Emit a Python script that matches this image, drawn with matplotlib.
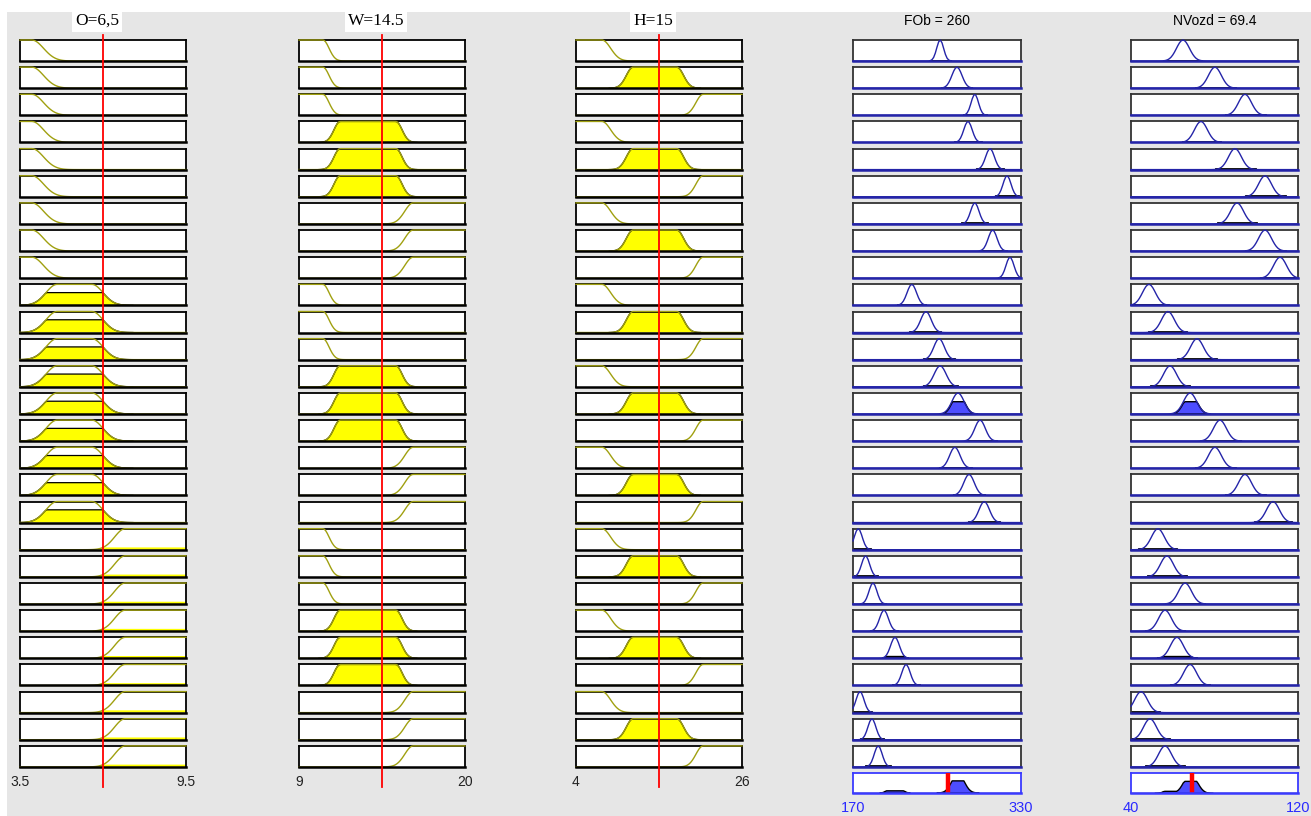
import numpy as np
import matplotlib
matplotlib.use("Agg")
import matplotlib.pyplot as plt
from matplotlib.patches import Rectangle
from matplotlib.lines import Line2D
from matplotlib.transforms import blended_transform_factory

# crisp inputs and defuzzified outputs
o_value, w_value, h_value = 6.5, 14.5, 15.0
fob_value, nvozd_value = 260, 69.4
titles = ["O=6,5", "W=14.5", "H=15", "FOb = 260", "NVozd = 69.4"]

# variable ranges
o_range = [3.5, 9.5]
w_range = [9, 20]
h_range = [4, 26]
fob_range = [170, 330]
nvozd_range = [40, 120]

# input membership functions: low = [c, s], mid = [c1, s1, c2, s2], high = [c, s]
o_mfs = {"low": [3.93, 0.42], "mid": [4.84, 0.40, 6.10, 0.40], "high": [7.30, 0.38]}
w_mfs = {"low": [10.59, 0.40], "mid": [11.72, 0.40, 15.43, 0.40], "high": [16.56, 0.55]}
h_mfs = {"low": [7.44, 1.15], "mid": [11.55, 0.88, 17.38, 0.88], "high": [20.83, 0.93]}

# rule antecedents (27 rules)
o_terms = ["low"] * 9 + ["mid"] * 9 + ["high"] * 9
w_terms = (["low"] * 3 + ["mid"] * 3 + ["high"] * 3) * 3
h_terms = ["low", "mid", "high"] * 9

# rule consequents: gaussian centres and widths
fob_centres = [253, 269, 286, 279.5, 300.5, 316.7, 286, 303, 319.5,
               226, 239.5, 252, 253, 270, 291, 267, 280.5, 295,
               175, 182, 189, 199.5, 210, 220.5, 176.7, 188, 194]
fob_sigmas = [3.3, 4.8, 3.5, 4.0, 4.2, 3.8, 4.0, 4.2, 3.8,
              4.5, 5.0, 5.0, 5.7, 5.7, 5.0, 5.0, 5.0, 5.0,
              3.8, 3.8, 3.8, 4.2, 4.2, 4.0, 3.8, 3.8, 3.8]
nvozd_centres = [64.9, 80.2, 94.6, 73.5, 89.8, 104.2, 90.8, 104.2, 111.4,
                 48.6, 57.7, 71.6, 58.7, 68.3, 82.6, 80.2, 94.6, 108,
                 52.9, 57.2, 65.9, 56.3, 62, 68.3, 44.8, 49.1, 56.3]
nvozd_sigmas = [3.1] * 27


def low_mf(x, c, s):
    return np.where(x <= c, 1.0, np.exp(-(x - c) ** 2 / (2 * s ** 2)))


def high_mf(x, c, s):
    return np.where(x >= c, 1.0, np.exp(-(x - c) ** 2 / (2 * s ** 2)))


def mid_mf(x, c1, s1, c2, s2):
    return low_mf(x, c2, s2) * high_mf(x, c1, s1)


def term_mf(x, mfs, term):
    funcs = {"low": low_mf, "mid": mid_mf, "high": high_mf}
    return funcs[term](np.asarray(x, dtype=float), *mfs[term])


def gauss(x, c, s):
    return np.exp(-(x - c) ** 2 / (2 * s ** 2))


W_PX, H_PX = 1311, 816
fig = plt.figure(figsize=(W_PX / 100, H_PX / 100), dpi=100, facecolor="white")
fig.add_artist(Rectangle((7 / W_PX, 0), 1, 1 - 12 / H_PX, transform=fig.transFigure,
                         facecolor="#e6e6e6", edgecolor="none", zorder=-10))

col_px = [(20, 186), (299, 465), (576, 742), (853, 1021), (1131, 1298)]
row_top0, row_step, row_h = 40, 27.15, 21


def px_axes(x0, x1, y0, y1):
    return fig.add_axes([x0 / W_PX, 1 - y1 / H_PX, (x1 - x0) / W_PX, (y1 - y0) / H_PX])


def fy(ypx):
    return 1 - ypx / H_PX


def style_box(ax, rng, edge, bottom):
    ax.set_xlim(rng)
    ax.set_ylim(0, 1)
    ax.set_xticks([])
    ax.set_yticks([])
    for side, sp in ax.spines.items():
        sp.set_color(bottom if side == "bottom" else edge)
        sp.set_linewidth(1.8 if side == "bottom" else 1.3)
        sp.set_zorder(4 if side == "bottom" else 2.5)


olive = "#a0a010"
navy = "#2424a8"
blue_fill = "#4d4dff"

inputs = [(o_range, o_mfs, o_terms, o_value),
          (w_range, w_mfs, w_terms, w_value),
          (h_range, h_mfs, h_terms, h_value)]
outputs = [(fob_range, fob_centres, fob_sigmas, fob_value),
           (nvozd_range, nvozd_centres, nvozd_sigmas, nvozd_value)]

# firing strength of every rule (min operator)
n_rules = 27
firing = []
for r in range(n_rules):
    degs = [float(term_mf(val, mfs, terms[r])) for rng, mfs, terms, val in inputs]
    firing.append(min(degs))

# input columns
for ci, (rng, mfs, terms, val) in enumerate(inputs):
    x0, x1 = col_px[ci]
    xs = np.linspace(rng[0], rng[1], 101)
    top_ax = None
    for r in range(n_rules):
        y0 = row_top0 + r * row_step
        ax = px_axes(x0, x1, y0, y0 + row_h)
        ys = term_mf(xs, mfs, terms[r])
        deg = float(term_mf(val, mfs, terms[r]))
        if deg > 1e-3:
            clip = np.minimum(ys, deg)
            on = ys > 1e-3
            ax.fill_between(xs, 0, clip, where=on, facecolor="yellow",
                            edgecolor="none", zorder=2)
            if deg > 0.3:
                ax.plot(xs[on], clip[on], color="black", linewidth=0.9, zorder=2.2)
        ax.plot(xs, ys, color=olive, linewidth=1.0, zorder=3, clip_on=False)
        style_box(ax, rng, "black", "black")
        if r == 0:
            top_ax = ax
    # red line at the crisp input
    tr = blended_transform_factory(top_ax.transData, fig.transFigure)
    fig.add_artist(Line2D([val, val], [fy(35), fy(787)], transform=tr,
                          color="red", linewidth=1.3, zorder=5))
    for v in rng:
        fig.text(v, fy(782), f"{v:g}", transform=tr, ha="center", va="center",
                 fontsize=10, family="Liberation Sans", color="#222222")
    fig.text((x0 + x1 - 12) / 2 / W_PX, fy(21), titles[ci], ha="center", va="center",
             fontsize=12.5, family="Liberation Serif", color="black",
             bbox=dict(facecolor="white", edgecolor="none", pad=2.0), zorder=4)

# output columns
for oi, (rng, centres, sigmas, val) in enumerate(outputs):
    ci = 3 + oi
    x0, x1 = col_px[ci]
    xs = np.linspace(rng[0], rng[1], 101)
    agg = np.zeros_like(xs)
    for r in range(n_rules):
        y0 = row_top0 + r * row_step
        ax = px_axes(x0, x1, y0, y0 + row_h)
        ys = gauss(xs, centres[r], sigmas[r])
        clip = np.minimum(ys, firing[r])
        agg = np.maximum(agg, clip)
        sup = xs[ys > 0.01]
        if firing[r] > 1e-3:
            ax.fill_between(xs, 0, clip, where=ys > 0.01, facecolor=blue_fill,
                            edgecolor="black", linewidth=1.0, zorder=2)
        ax.plot([sup[0], sup[-1]], [0.02, 0.02], color="black", linewidth=2.0, zorder=2)
        ax.plot(xs, ys, color=navy, linewidth=1.0, zorder=3, clip_on=False)
        style_box(ax, rng, "#333333", navy)
    # aggregated output
    ax = px_axes(x0, x1, 773, 793)
    ax.fill_between(xs, 0, agg, where=agg > 1e-3, facecolor=blue_fill,
                    edgecolor="black", linewidth=1.0, zorder=2)
    ax.axhline(0.02, color="black", linewidth=1.0, zorder=1)
    ax.plot([val, val], [0, 1], color="red", linewidth=3.2, zorder=4, solid_capstyle="butt")
    style_box(ax, rng, "#3a3aff", "#3a3aff")
    tr = blended_transform_factory(ax.transData, fig.transFigure)
    for v in rng:
        fig.text(v, fy(808), f"{v:g}", transform=tr, ha="center", va="center",
                 fontsize=10.5, family="Liberation Sans", color="#2a2aff")
    fig.text((x0 + x1) / 2 / W_PX, fy(21), titles[ci], ha="center", va="center",
             fontsize=10, family="Liberation Sans", color="black")

fig.savefig("out.png", dpi=100, facecolor="white")
